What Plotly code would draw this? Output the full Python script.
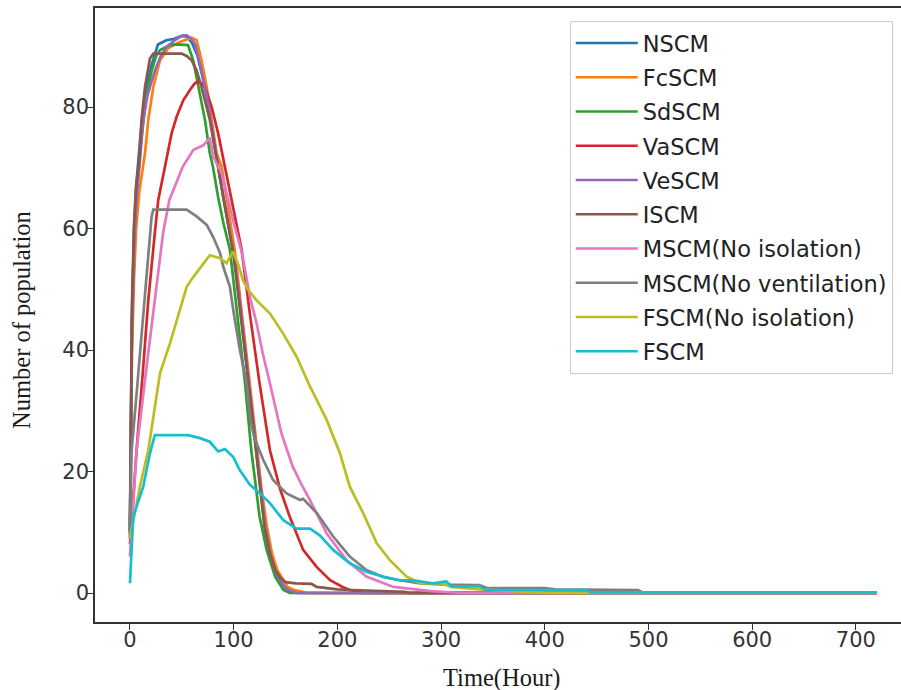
import plotly.graph_objects as go

# ---- data (time in hours, number of population) ----
nscm_t = [0, 1, 2, 4, 6, 9, 11, 14.5, 17, 21, 27, 35, 42, 50, 55, 60, 65, 70, 75, 80, 85, 90, 95, 100, 105, 110, 115, 120, 125, 130, 135, 140, 145, 150, 155, 160, 720]
nscm_v = [10, 32, 46, 60, 67, 73, 77, 81, 84, 87, 90.3, 91, 91.2, 91.7, 91.6, 90.5, 88.5, 85, 81, 75.5, 70.2, 65.2, 60.5, 56, 49, 41.5, 34, 25.5, 18, 11, 6.5, 3.5, 2, 0.8, 0.2, 0, 0]

fcscm_t = [0, 1, 2, 4, 6, 9, 12, 14.5, 17.7, 22.5, 29, 37, 48, 55, 59.5, 64.3, 69, 74, 78.8, 83.6, 88.4, 93, 101, 106, 112, 117, 122, 127, 132, 137, 142, 147.8, 152, 158, 165, 170, 720]
fcscm_v = [9, 28, 40, 52, 60, 66, 70, 72.4, 77.9, 83.3, 87.7, 89.7, 90.7, 91.2, 91.4, 91, 87.7, 83.3, 77.9, 72.4, 70.2, 65.2, 56.5, 49, 40, 32.5, 24.5, 17, 11, 6.5, 3.8, 2.1, 1, 0.5, 0.3, 0, 0]

sdscm_t = [0, 1, 2, 4, 6, 9, 12.9, 16, 20.9, 25, 29, 38.6, 45, 56, 61, 65.9, 72.3, 77, 80, 85, 90, 96.4, 104, 111, 117, 125, 131.8, 140, 148, 154, 720]
sdscm_v = [10, 31, 45, 59, 66, 72, 77.9, 82, 86, 88.3, 89.4, 90.2, 90.3, 90.2, 87.7, 83.3, 77.9, 72.4, 70.2, 65.2, 61, 56.5, 45.5, 34.5, 23.5, 12.6, 7.1, 2.7, 0.5, 0, 0]

vascm_t = [0, 3, 6.4, 12.8, 17.7, 24, 27.3, 33.8, 40.2, 45, 51.4, 57.9, 62, 65, 68, 72.3, 78.8, 85, 91.6, 98, 107.7, 116, 125, 135, 145, 154, 167, 180, 193, 205, 212, 225, 720]
vascm_v = [8, 16, 23.5, 37.2, 48.2, 59.3, 64.7, 70.2, 75.7, 78.4, 81.1, 82.8, 83.8, 84.2, 84, 83.3, 80, 75.7, 70.2, 65.2, 56.5, 45.5, 34.5, 23.5, 17, 12.6, 7.1, 4.3, 2.1, 1, 0.5, 0, 0]

vescm_t = [0, 1, 2, 4, 6, 9, 12.9, 17, 24.1, 30, 35.4, 43.4, 51, 54.7, 58, 62.7, 69, 75.5, 80, 85, 90, 95, 100, 105, 110, 115, 120, 125, 130, 135, 140, 145, 150, 156, 162, 720]
vescm_v = [9, 30, 44, 57, 64, 70, 77.9, 82, 86, 88.5, 89.9, 91, 91.8, 91.8, 91.4, 90.4, 86, 80.6, 75.5, 70.2, 65.2, 60.5, 56, 49.5, 42, 34.5, 26, 18.5, 11.5, 6.8, 3.6, 2, 0.8, 0.3, 0, 0]

iscm_t = [0, 1, 2, 4, 6, 9, 11.2, 14.5, 19.3, 22.5, 35, 49.8, 54.7, 59.5, 64.3, 69, 77, 85, 90, 100, 110, 115, 120, 125, 130, 135, 140, 145, 150, 160, 175, 180, 200, 215, 240, 265, 270, 720]
iscm_v = [11, 34, 48, 61, 67, 71.3, 77.9, 83.3, 88, 88.8, 88.8, 88.8, 88.4, 87.7, 86, 83.3, 77.9, 70, 65, 55.5, 41, 33.5, 25, 17.5, 10.5, 6.5, 3.8, 2.5, 1.8, 1.6, 1.5, 1, 0.6, 0.5, 0.3, 0.2, 0, 0]

mscm_ni_t = [0, 3, 6.4, 16, 24, 32, 38, 45, 51, 61, 70.7, 75.5, 77, 80.3, 88.4, 93.2, 100, 108, 116, 122, 128, 135, 146, 157, 165, 173.6, 189.7, 209, 228, 254, 290, 320, 720]
mscm_ni_v = [6, 14, 23.5, 37.2, 48.2, 59.3, 64.7, 67.8, 70.2, 72.9, 73.7, 74.6, 75, 71.8, 69.1, 65.8, 61, 56, 48.5, 44.5, 39.5, 34.5, 26.3, 20.8, 18, 15.3, 9.8, 5.4, 2.7, 1, 0.3, 0, 0]

mscm_nv_t = [0, 1.6, 6, 12.8, 17, 20.9, 22.5, 40, 54.6, 64.3, 74, 80.3, 86.8, 90, 96.4, 99.6, 106, 112.5, 116, 120, 128.6, 138, 151, 164, 167, 180, 196, 212, 228, 245, 260, 280, 300, 337, 345, 400, 410, 490, 495, 720]
mscm_nv_v = [10, 23.5, 32, 45.5, 54, 62, 63.1, 63.1, 63.1, 62, 60.6, 58.6, 56, 53.7, 50.4, 46.6, 40, 34.5, 28.5, 25.5, 21.9, 18.6, 16.4, 15.3, 15.5, 13.2, 9.3, 6, 3.8, 2.6, 2.1, 1.6, 1.4, 1.3, 0.8, 0.8, 0.6, 0.5, 0, 0]

fscm_ni_t = [0, 3.2, 9.6, 17.7, 24, 29, 38.6, 48.2, 54.7, 61, 70.7, 77, 86.8, 93, 99.6, 104.5, 109, 114, 122, 135, 147.8, 160.7, 173.6, 189.7, 202.5, 212, 225, 238, 250.7, 266.8, 280, 300, 310, 337, 394, 400, 720]
fscm_ni_v = [9, 12, 17.5, 23.5, 30.7, 36.2, 41.1, 46.6, 50.4, 52, 54.3, 55.6, 55.1, 54.3, 56.2, 54, 51.5, 49.9, 48.2, 46, 42.7, 38.9, 34, 28.5, 23, 17.5, 13.1, 8.2, 5.4, 2.7, 1.6, 1.6, 1.0, 0.6, 0.1, 0, 0]

fscm_t = [0, 3.2, 12.8, 19.3, 24, 56, 67.5, 77, 85, 91.6, 99.6, 106, 115.7, 125.4, 135, 147.8, 160.7, 173.6, 183, 196, 212, 228, 244, 260, 273, 292, 305, 310, 337, 343, 440, 445, 720]
fscm_v = [1.6, 12.6, 17.5, 23, 26, 26, 25.5, 24.9, 23.3, 23.7, 22.4, 20.2, 17.8, 16.4, 14.8, 12, 10.6, 10.6, 9.5, 7.1, 4.9, 3.5, 2.7, 2.1, 2.1, 1.6, 1.9, 1.1, 1.1, 0.5, 0.5, 0.1, 0.1]

series_names = ["NSCM", "FcSCM", "SdSCM", "VaSCM", "VeSCM", "ISCM",
                "MSCM(No isolation)", "MSCM(No ventilation)", "FSCM(No isolation)", "FSCM"]
series_t = [nscm_t, fcscm_t, sdscm_t, vascm_t, vescm_t, iscm_t, mscm_ni_t, mscm_nv_t, fscm_ni_t, fscm_t]
series_v = [nscm_v, fcscm_v, sdscm_v, vascm_v, vescm_v, iscm_v, mscm_ni_v, mscm_nv_v, fscm_ni_v, fscm_v]
colors = ["#1f77b4", "#ff7f0e", "#2ca02c", "#d62728", "#9467bd",
          "#8c564b", "#e377c2", "#7f7f7f", "#bcbd22", "#17becf"]

x_ticks = [0, 100, 200, 300, 400, 500, 600, 700]
y_ticks = [0, 20, 40, 60, 80]
x_title = "Time(Hour)"
y_title = "Number of population"

fig = go.Figure()
for i, (name, t, v, c) in enumerate(zip(series_names, series_t, series_v, colors)):
    fig.add_trace(go.Scatter(x=t, y=v, mode="lines", name=name,
                             line=dict(color=c, width=2.7),
                             legendgroup="g%d" % i))

tick_font = dict(family="DejaVu Sans", size=21, color="#333333")
title_font = dict(family="Liberation Serif", size=24.5, color="#1a1a1a")

fig.update_layout(
    width=901, height=690,
    paper_bgcolor="white", plot_bgcolor="white",
    margin=dict(l=95, r=0, t=8, b=68, autoexpand=False),
    showlegend=True,
    legend=dict(x=0.589, y=0.979, xanchor="left", yanchor="top",
                font=dict(family="DejaVu Sans", size=22.5, color="#222222"),
                bgcolor="rgba(255,255,255,0.9)", bordercolor="#cccccc", borderwidth=1,
                tracegroupgap=2, itemwidth=62),
    xaxis=dict(range=[-33.7, 743.5], tickvals=x_ticks, ticks="outside", ticklen=6,
               tickcolor="#333333", tickfont=tick_font, showgrid=False, zeroline=False,
               showline=True, linecolor="#333333", linewidth=1.5, mirror=True,
               ticklabelstandoff=-8),
    yaxis=dict(range=[-4.77, 96.3], tickvals=y_ticks, ticks="outside", ticklen=6,
               tickcolor="#333333", tickfont=tick_font, showgrid=False, zeroline=False,
               showline=True, linecolor="#333333", linewidth=1.5,
               ticklabelstandoff=-6),
    annotations=[
        dict(text=x_title, xref="paper", yref="paper", x=0.505, y=-0.0912,
             xanchor="center", yanchor="middle", showarrow=False, font=title_font),
        dict(text=y_title, xref="paper", yref="paper", x=-0.0906, y=0.492,
             xanchor="center", yanchor="middle", showarrow=False, textangle=-90,
             font=title_font),
    ],
)

fig.write_html("out.html", config={"displayModeBar": False},
               post_script="document.body.style.margin='0';document.body.style.overflow='hidden';")
